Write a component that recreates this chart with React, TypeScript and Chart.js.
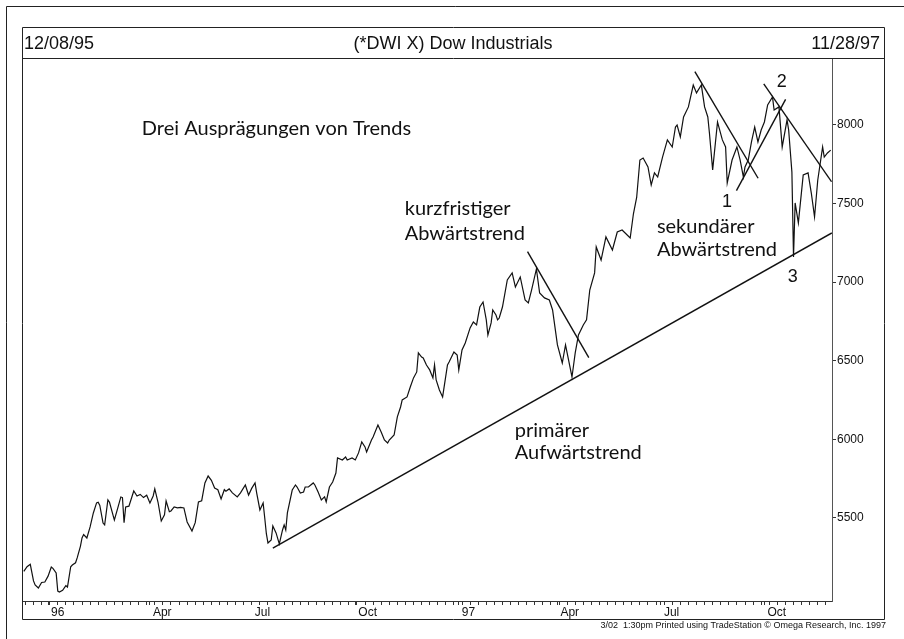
import React, { useEffect, useRef } from 'react';
import { Chart, registerables } from 'chart.js';

Chart.register(...registerables);

// Trading-day index (0 = 12/08/95 ... 499 = 11/28/97) and closing values
const dayIdx = [
  0, 2, 4, 6, 7, 9, 11, 13, 15, 17, 18, 20, 21, 22, 24, 26, 27, 29, 30, 32, 33, 35, 36, 37, 39, 41, 43, 45, 46, 47,
  49, 50, 52, 53, 56, 58, 60, 61, 62, 63, 65, 68, 70, 72, 74, 76, 78, 80, 81, 83, 85, 87, 88, 90, 91, 93, 95, 97, 99,
  101, 104, 106, 108, 110, 112, 114, 116, 118, 120, 122, 124, 125, 127, 129, 132, 134, 137, 139, 141, 143, 144, 146,
  148, 149, 150, 151, 153, 154, 156, 158, 160, 161, 162, 163, 166, 168, 169, 171, 173, 174, 176, 179, 180, 182, 184,
  186, 187, 189, 191, 193, 194, 197, 199, 200, 203, 205, 207, 209, 211, 212, 215, 216, 219, 221, 223, 225, 226, 229,
  231, 233, 234, 237, 239, 241, 243, 244, 246, 247, 249, 251, 253, 254, 255, 257, 259, 262, 263, 266, 268, 269, 271,
  273, 276, 278, 280, 282, 284, 286, 287, 289, 290, 292, 293, 294, 296, 299, 302, 304, 307, 310, 312, 314, 317, 319,
  322, 325, 327, 330, 333, 335, 336, 339, 341, 343, 346, 348, 350, 353, 354, 357, 360, 364, 367, 370, 375, 377, 379,
  381, 383, 386, 388, 390, 392, 395, 398, 401, 403, 404, 406, 408, 411, 414, 416, 419, 421, 423, 424, 426, 429, 432,
  434, 435, 438, 441, 443, 445, 446, 448, 450, 452, 454, 456, 458, 460, 463, 464, 467, 469, 472, 473, 475, 476, 477,
  479, 482, 485, 487, 489, 491, 494, 495, 497, 499,
];
const closes = [
  5160, 5190, 5205, 5100, 5074, 5055, 5090, 5093, 5130, 5188, 5180, 5150, 5035, 5029, 5040, 5070, 5061, 5190, 5201,
  5215, 5246, 5320, 5373, 5395, 5373, 5443, 5532, 5596, 5600, 5580,
  5468, 5456, 5615, 5600, 5487, 5560, 5634, 5630, 5470, 5570, 5575, 5672, 5640, 5650, 5630, 5645, 5596, 5640, 5685,
  5600, 5481, 5520, 5608, 5540, 5545, 5570, 5565, 5568, 5564,
  5475, 5417, 5470, 5602, 5610, 5723, 5767, 5740, 5691, 5680, 5621, 5680, 5670, 5685, 5660, 5634, 5660, 5710, 5646,
  5690, 5723, 5660, 5551,
  5596, 5500, 5400, 5341, 5360, 5449, 5405, 5335, 5424, 5456, 5424, 5532, 5678, 5710, 5697, 5659, 5665, 5697, 5697,
  5723, 5710, 5665, 5615,
  5634, 5602, 5697, 5729, 5786, 5882, 5869, 5888, 5869, 5882, 5869, 5914, 5984, 5952, 5920, 5996, 6015, 6092, 6047,
  5996, 5977, 5996, 6028,
  6143, 6206, 6251, 6270, 6333, 6391, 6429, 6550, 6524, 6518, 6473, 6442, 6391, 6473, 6378, 6314, 6270, 6473, 6492,
  6556, 6537, 6442, 6569,
  6613, 6709, 6747, 6728, 6842, 6874, 6760, 6664, 6741, 6823, 6791, 6760, 6772, 6842, 7014, 7059, 6970, 7033, 6887,
  6868, 6950, 7084, 6931,
  6900, 6887, 6823, 6601, 6486, 6601, 6550, 6397, 6550, 6664, 6728, 6760, 6950, 7059, 7224, 7141, 7288, 7205, 7319,
  7332, 7281, 7435, 7539,
  7777, 7790, 7733, 7618, 7695, 7669, 7796, 7905, 7860, 7987, 8000, 7924, 8051, 8115, 8254, 8204, 8254, 8115, 8051,
  7949, 7714, 8019, 7905,
  7860, 7631, 7777, 7860, 7777, 7669, 7733, 7777, 7892, 7987, 7892, 7968, 8019, 8127, 8178, 8095, 8115, 7860, 8032,
  7968, 7700, 7161, 7504,
  7377, 7682, 7695, 7567, 7415, 7650, 7860, 7796, 7822, 7840,
];

// Trend lines (start/end in trading-day index and index value)
const primaryUpX = [154, 499.7];
const primaryUpY = [5309, 7313];
const shortDownX = [311.5, 349.4];
const shortDownY = [7194, 6520];
const secDown1X = [415, 454.1];
const secDown1Y = [8339, 7661];
const secUpX = [440.7, 471.1];
const secUpY = [7582, 8163];
const secDown2X = [457.6, 499.5];
const secDown2Y = [8261, 7639];

const yTicks = [5500, 6000, 6500, 7000, 7500, 8000];
const monthTickIdx = [15, 78, 141, 205, 269, 330, 394, 458];
const monthLabels = ['96', 'Apr', 'Jul', 'Oct', '97', 'Apr', 'Jul', 'Oct'];

// Annotation texts anchored in data space (left edge, baseline)
const noteTexts = ['Drei Ausprägungen von Trends', 'kurzfristiger', 'Abwärtstrend', 'primärer', 'Aufwärtstrend', 'sekundärer', 'Abwärtstrend'];
const noteX = [73, 235.6, 235.6, 303.6, 303.6, 391.5, 391.5];
const noteY = [7936, 7427, 7268, 6015, 5875, 7313, 7167];
const markerTexts = ['1', '2', '3'];
const markerX = [431.7, 465.7, 472.5];
const markerY = [7478, 8242, 7001];

const titleLeft = '12/08/95';
const titleCenter = '(*DWI X) Dow Industrials';
const titleRight = '11/28/97';
const footer = '3/02  1:30pm Printed using TradeStation \u00a9 Omega Research, Inc. 1997';

const weekTicks: number[] = [];
for (let i = 1; i <= 499; i += 5) weekTicks.push(i);
const allXTicks = Array.from(new Set([...weekTicks, ...monthTickIdx])).sort((a, b) => a - b);

const pairs = (xs: number[], ys: number[]) => xs.map((x, i) => ({ x, y: ys[i] }));

const SANS = '"Liberation Sans", Arial, sans-serif';
const NOTE = 'Lato, "Open Sans", sans-serif';

const framePlugin = {
  id: 'framePlugin',
  afterDraw(chart: any) {
    const ctx = chart.ctx as CanvasRenderingContext2D;
    const xs = chart.scales.x;
    const ys = chart.scales.y;
    ctx.save();
    ctx.strokeStyle = '#222';
    ctx.lineWidth = 1;
    // outer frame
    ctx.beginPath();
    ctx.moveTo(6.5, 639);
    ctx.lineTo(6.5, 6.5);
    ctx.lineTo(904, 6.5);
    ctx.stroke();
    // inner frame
    ctx.beginPath();
    ctx.rect(22.5, 27.5, 862, 592);
    ctx.moveTo(22.5, 58.5);
    ctx.lineTo(884.5, 58.5);
    ctx.stroke();

    // title row
    ctx.fillStyle = '#111';
    ctx.font = `18px ${SANS}`;
    ctx.textBaseline = 'alphabetic';
    ctx.textAlign = 'left';
    ctx.fillText(titleLeft, 24, 49);
    ctx.textAlign = 'center';
    ctx.fillText(titleCenter, 453, 49);
    ctx.textAlign = 'right';
    ctx.fillText(titleRight, 880, 49);

    // footer
    ctx.font = `9px ${SANS}`;
    ctx.textAlign = 'right';
    ctx.fillText(footer, 886, 628);

    // annotations
    ctx.font = `20px ${NOTE}`;
    ctx.textAlign = 'left';
    noteTexts.forEach((t, i) => {
      ctx.fillText(t, xs.getPixelForValue(noteX[i]), ys.getPixelForValue(noteY[i]));
    });
    ctx.font = `18px ${SANS}`;
    markerTexts.forEach((t, i) => {
      ctx.fillText(t, xs.getPixelForValue(markerX[i]), ys.getPixelForValue(markerY[i]));
    });
    ctx.restore();
  },
};

export default function App() {
  const ref = useRef<HTMLCanvasElement | null>(null);
  useEffect(() => {
    if (!ref.current) return;
    const trend = (xs: number[], ys: number[]) => ({
      data: pairs(xs, ys),
      borderColor: '#111',
      borderWidth: 1.4,
      pointRadius: 0,
      tension: 0,
      fill: false,
    });
    const chart = new Chart(ref.current, {
      type: 'line',
      data: {
        datasets: [
          {
            data: pairs(dayIdx, closes),
            borderColor: '#111',
            borderWidth: 1.2,
            pointRadius: 0,
            tension: 0,
            fill: false,
          },
          trend(primaryUpX, primaryUpY),
          trend(shortDownX, shortDownY),
          trend(secDown1X, secDown1Y),
          trend(secUpX, secUpY),
          trend(secDown2X, secDown2Y),
        ],
      },
      options: {
        animation: false,
        responsive: false,
        devicePixelRatio: 1,
        parsing: false as any,
        layout: { padding: { left: 23, top: 58, right: 20, bottom: 20 } },
        plugins: { legend: { display: false }, tooltip: { enabled: false }, title: { display: false } },
        scales: {
          x: {
            type: 'linear',
            min: -0.5,
            max: 499.8,
            afterBuildTicks: (s: any) => {
              s.ticks = allXTicks.map((v) => ({ value: v }));
            },
            afterFit: (s: any) => {
              s.height = 18;
            },
            grid: { drawOnChartArea: false, drawTicks: true, tickLength: 4, color: '#333' },
            border: { display: true, color: '#333', width: 1 },
            ticks: {
              autoSkip: false,
              maxRotation: 0,
              minRotation: 0,
              align: 'start',
              labelOffset: 3,
              padding: 0,
              color: '#111',
              font: { family: SANS, size: 12 },
              callback: (v: any) => {
                const k = monthTickIdx.indexOf(Number(v));
                return k >= 0 ? monthLabels[k] : '';
              },
            },
          },
          y: {
            type: 'linear',
            position: 'right',
            min: 4972,
            max: 8426,
            afterBuildTicks: (s: any) => {
              s.ticks = yTicks.map((v) => ({ value: v }));
            },
            afterFit: (s: any) => {
              s.width = 52;
            },
            grid: { drawOnChartArea: false, drawTicks: true, tickLength: 4, color: '#333' },
            border: { display: true, color: '#555', width: 1 },
            ticks: {
              padding: 1,
              color: '#111',
              font: { family: SANS, size: 12 },
              callback: (v: any) => String(v),
            },
          },
        },
      },
      plugins: [framePlugin],
    });
    return () => chart.destroy();
  }, []);
  return (
    <div style={{ position: 'absolute', left: 0, top: 0, width: 904, height: 639, background: '#fff' }}>
      <canvas ref={ref} width={904} height={639} style={{ display: 'block' }} />
    </div>
  );
}
